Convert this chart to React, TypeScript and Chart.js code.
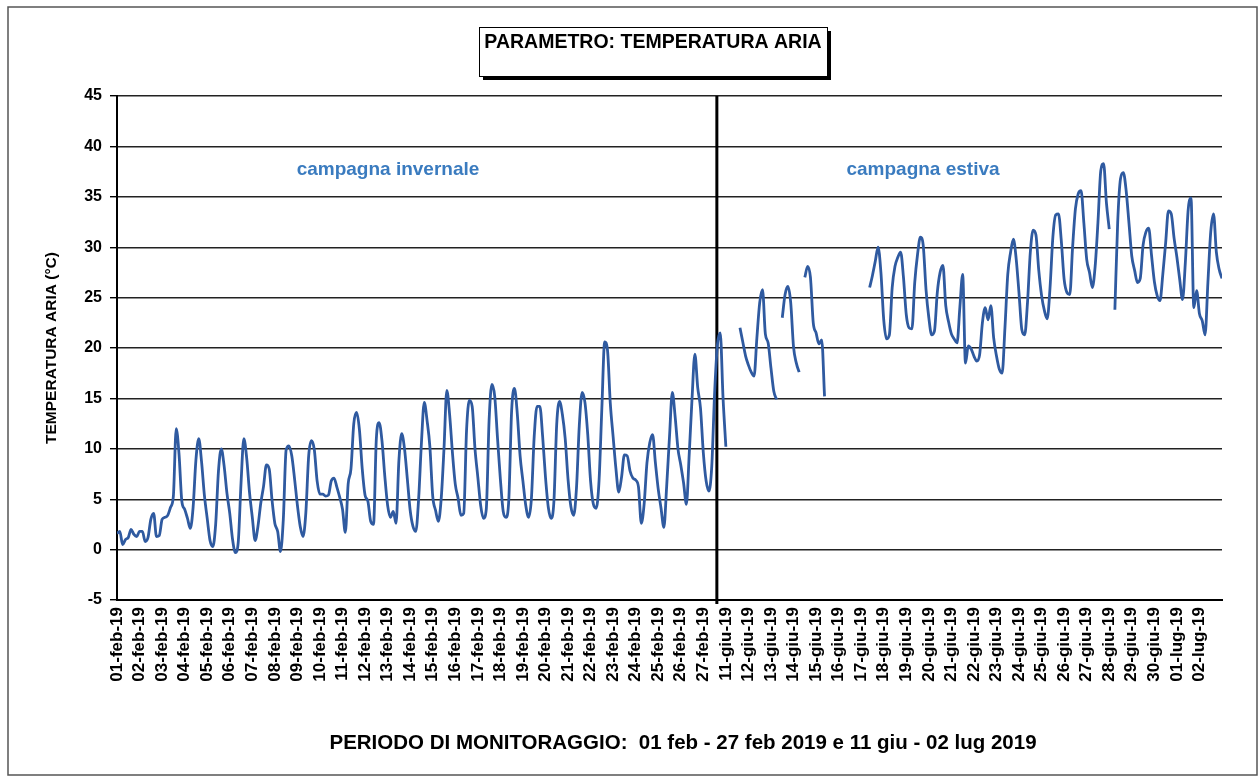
import React, { useEffect, useRef } from 'react';
import { Chart, registerables } from 'chart.js';

Chart.register(...registerables);

// ---- tick labels (one per monitored day) ----
const dayLabels: string[] = [
  '01-feb-19', '02-feb-19', '03-feb-19', '04-feb-19', '05-feb-19', '06-feb-19', '07-feb-19',
  '08-feb-19', '09-feb-19', '10-feb-19', '11-feb-19', '12-feb-19', '13-feb-19', '14-feb-19',
  '15-feb-19', '16-feb-19', '17-feb-19', '18-feb-19', '19-feb-19', '20-feb-19', '21-feb-19',
  '22-feb-19', '23-feb-19', '24-feb-19', '25-feb-19', '26-feb-19', '27-feb-19',
  '11-giu-19', '12-giu-19', '13-giu-19', '14-giu-19', '15-giu-19', '16-giu-19', '17-giu-19',
  '18-giu-19', '19-giu-19', '20-giu-19', '21-giu-19', '22-giu-19', '23-giu-19', '24-giu-19',
  '25-giu-19', '26-giu-19', '27-giu-19', '28-giu-19', '29-giu-19', '30-giu-19',
  '01-lug-19', '02-lug-19',
];

// readings every 3 hours (8 per day)
const samplesPerDay = 8;

// winter campaign: 01-feb .. 27-feb (day index 0..27)
const winterStartDay = 0;
const winterTemps: number[] = [
  1.6, 1.8, 0.5, 1.0, 1.2, 2.0, 1.5, 1.3,
  1.8, 1.8, 0.8, 1.2, 3.0, 3.6, 1.3, 1.4,
  3.0, 3.2, 3.4, 4.2, 5.3, 12.0, 9.5, 4.8,
  4.0, 3.1, 2.1, 4.2, 8.9, 11.0, 8.7, 5.4,
  3.1, 0.9, 0.3, 2.5, 7.8, 10.0, 8.3, 5.6,
  3.6, 1.0, -0.3, 0.7, 6.6, 11.0, 9.1, 5.7,
  3.2, 0.9, 2.3, 4.6, 6.3, 8.4, 8.0, 4.9,
  2.6, 1.8, -0.2, 3.0, 9.9, 10.3, 9.3, 7.0,
  4.4, 2.3, 1.3, 3.7, 9.3, 10.8, 9.9, 6.8,
  5.5, 5.5, 5.3, 5.4, 6.8, 7.1, 6.2, 5.2,
  4.0, 1.7, 6.5, 8.0, 12.5, 13.6, 11.9, 8.0,
  5.4, 4.8, 2.8, 2.5, 11.0, 12.6, 10.8, 7.3,
  4.4, 3.2, 3.8, 2.6, 8.8, 11.5, 10.0, 7.0,
  3.9, 2.3, 1.8, 5.0, 10.6, 14.6, 12.8, 10.2,
  5.3, 3.9, 2.8, 5.0, 10.0, 15.8, 13.4, 9.6,
  6.5, 5.1, 3.4, 3.6, 11.8, 14.8, 14.2, 10.0,
  7.2, 4.4, 3.1, 4.0, 12.8, 16.4, 15.2, 11.0,
  7.0, 3.8, 3.2, 5.0, 13.8, 16.0, 13.5, 9.3,
  6.8, 4.4, 3.2, 5.0, 11.2, 14.2, 14.2, 11.2,
  7.2, 4.2, 3.1, 4.8, 12.5, 14.7, 13.4, 11.0,
  7.0, 4.3, 3.4, 6.1, 12.3, 15.6, 14.6, 11.4,
  6.8, 4.5, 4.1, 6.8, 14.0, 20.6, 19.8, 14.5,
  11.2, 8.0, 5.7, 7.2, 9.4, 9.3, 7.8, 7.1,
  6.9, 6.2, 2.6, 4.5, 8.6, 10.6, 11.4, 8.6,
  6.0, 4.1, 2.2, 6.3, 11.2, 15.6, 13.2, 10.0,
  8.4, 6.6, 4.5, 9.5, 15.0, 19.4, 16.1, 14.0,
  9.6, 6.8, 5.8, 8.3, 15.5, 20.3, 21.5, 15.0,
  10.2,
];

// summer campaign: 11-giu .. 02-lug (day index 27..49), null = missing data
const summerStartDay = 27;
const summerTemps: (number | null)[] = [
  null, null, null, null, null, 22.0, 20.6, 19.2,
  18.3, 17.6, 17.2, 21.0, 24.5, 25.8, 21.4, 20.5,
  18.0, 15.7, 14.9, null, 23.0, 25.3, 26.1, 24.5,
  20.1, 18.5, 17.6, null, 27.0, 28.1, 27.0, 22.5,
  21.5, 20.4, 20.8, 15.2, null, null, null, null,
  null, null, null, null, null, null, null, null,
  null, null, null, 26.0, 27.2, 28.6, 30.0, 27.5,
  22.8, 20.9, 21.3, 26.0, 28.1, 29.0, 29.5, 27.0,
  23.3, 22.0, 21.9, 26.5, 29.3, 31.0, 30.2, 25.8,
  23.0, 21.3, 21.7, 25.5, 27.5, 28.2, 24.2, 22.6,
  21.4, 20.9, 20.5, 24.0, 27.3, 18.5, 20.2, 19.9,
  19.2, 18.7, 19.3, 22.5, 24.0, 22.8, 24.2, 21.0,
  19.2, 17.9, 17.5, 22.0, 27.3, 29.5, 30.8, 28.8,
  25.4, 21.8, 21.3, 24.5, 29.5, 31.7, 31.2, 27.7,
  25.2, 23.7, 22.9, 26.0, 31.0, 33.2, 33.3, 30.6,
  26.8, 25.5, 25.3, 30.0, 33.8, 35.3, 35.6, 32.4,
  28.8, 27.5, 26.0, 28.1, 32.5, 37.6, 38.3, 34.4,
  31.8, null, 23.8, 32.5, 36.8, 37.4, 35.6, 32.4,
  29.1, 27.7, 26.5, 26.9, 30.2, 31.5, 31.9, 29.2,
  26.6, 25.2, 24.7, 27.3, 30.4, 33.6, 33.3, 30.9,
  29.0, 26.8, 24.8, 28.5, 33.7, 34.9, 24.0, 25.7,
  23.4, 22.7, 21.3, 26.5, 31.5, 33.3, 29.5, 27.8,
  26.9,
];

// separator between the two campaigns (day position) and its vertical extent
const separatorDay = 26.6;
const separatorRange = [-5.4, 45];

const yMin = -5;
const yMax = 45;
const yStep = 5;

const chartTitle = 'PARAMETRO: TEMPERATURA ARIA';
const yAxisTitle = 'TEMPERATURA ARIA (°C)';
const xAxisTitle = 'PERIODO DI MONITORAGGIO:  01 feb - 27 feb 2019 e 11 giu - 02 lug 2019';
const winterNote = 'campagna invernale';
const summerNote = 'campagna estiva';

const FONT = '"Liberation Sans", Arial, sans-serif';
const LINE_COLOR = '#2f5aa0';
const NOTE_COLOR = '#3a7bbf';

const toPoints = (start: number, arr: (number | null)[]) =>
  arr.map((v, i) => ({ x: start + i / samplesPerDay, y: v }));

const decorations = {
  id: 'decorations',
  beforeDraw(chart: any) {
    const ctx = chart.ctx as CanvasRenderingContext2D;
    ctx.save();
    ctx.fillStyle = '#fff';
    ctx.fillRect(0, 0, chart.width, chart.height);
    ctx.strokeStyle = '#555';
    ctx.lineWidth = 1.5;
    ctx.strokeRect(8, 7, 1249, 768);
    ctx.restore();
  },
  afterDraw(chart: any) {
    const ctx = chart.ctx as CanvasRenderingContext2D;
    const area = chart.chartArea;
    ctx.save();
    // title box with shadow
    const bx = 479, by = 27, bw = 348, bh = 49;
    ctx.fillStyle = '#000';
    ctx.fillRect(bx + 4, by + 4, bw, bh);
    ctx.fillStyle = '#fff';
    ctx.fillRect(bx, by, bw, bh);
    ctx.strokeStyle = '#000';
    ctx.lineWidth = 1;
    ctx.strokeRect(bx + 0.5, by + 0.5, bw, bh);
    ctx.fillStyle = '#000';
    ctx.font = `bold 19.5px ${FONT}`;
    ctx.textAlign = 'center';
    ctx.textBaseline = 'alphabetic';
    ctx.fillText(chartTitle, bx + bw / 2, by + 21);

    // campaign notes
    ctx.fillStyle = NOTE_COLOR;
    ctx.font = `bold 19px ${FONT}`;
    ctx.textBaseline = 'middle';
    ctx.fillText(winterNote, 388, 170);
    ctx.fillText(summerNote, 923, 170);

    // y axis title
    ctx.fillStyle = '#000';
    ctx.font = `bold 15.5px ${FONT}`;
    ctx.save();
    ctx.translate(52, (area.top + area.bottom) / 2);
    ctx.rotate(-Math.PI / 2);
    ctx.fillText(yAxisTitle, 0, 0);
    ctx.restore();

    // x axis title
    ctx.font = `bold 20.5px ${FONT}`;
    ctx.fillText(xAxisTitle, 683, 743);
    ctx.restore();
  },
};

export default function App() {
  const ref = useRef<HTMLCanvasElement | null>(null);

  useEffect(() => {
    document.body.style.margin = '0';
    const canvas = ref.current;
    if (!canvas) return;
    const chart = new Chart(canvas, {
      type: 'line',
      data: {
        datasets: [
          {
            label: 'invernale',
            data: toPoints(winterStartDay, winterTemps),
            borderColor: LINE_COLOR,
            borderWidth: 2.8,
            pointRadius: 0,
            cubicInterpolationMode: 'monotone',
            spanGaps: false,
            fill: false,
          },
          {
            label: 'estiva',
            data: toPoints(summerStartDay, summerTemps),
            borderColor: LINE_COLOR,
            borderWidth: 2.8,
            pointRadius: 0,
            cubicInterpolationMode: 'monotone',
            spanGaps: false,
            fill: false,
          },
          {
            label: 'separatore',
            data: separatorRange.map((y) => ({ x: separatorDay, y })),
            borderColor: '#000',
            borderWidth: 3,
            pointRadius: 0,
            tension: 0,
            fill: false,
            clip: false as any,
          },
        ],
      },
      options: {
        responsive: false,
        animation: false,
        events: [],
        layout: { padding: { top: 96, right: 38, left: 0, bottom: 0 } },
        plugins: {
          legend: { display: false },
          title: { display: false },
          tooltip: { enabled: false },
        },
        scales: {
          x: {
            type: 'linear',
            min: 0,
            max: dayLabels.length,
            afterFit: (s: any) => {
              s.height = 176;
            },
            grid: { display: false, drawTicks: false },
            border: { display: true, color: '#000', width: 2 },
            ticks: {
              stepSize: 1,
              autoSkip: false,
              maxRotation: 90,
              minRotation: 90,
              padding: 7,
              color: '#000',
              font: { family: FONT, size: 17, weight: 'bold' },
              callback: (v: any) => {
                const i = Number(v);
                return Number.isInteger(i) && i < dayLabels.length ? dayLabels[i] : '';
              },
            },
          },
          y: {
            type: 'linear',
            min: yMin,
            max: yMax,
            afterFit: (s: any) => {
              s.width = 117;
            },
            grid: {
              color: '#222',
              lineWidth: 1.4,
              tickLength: 7,
              tickColor: '#000',
              tickWidth: 1.4,
            },
            border: { display: true, color: '#000', width: 2 },
            ticks: {
              stepSize: yStep,
              padding: 8,
              color: '#000',
              font: { family: FONT, size: 16, weight: 'bold' },
            },
          },
        },
      },
      plugins: [decorations],
    });
    return () => chart.destroy();
  }, []);

  return (
    <div style={{ width: 1260, height: 776 }}>
      <canvas ref={ref} width={1260} height={776} style={{ display: 'block' }} />
    </div>
  );
}
